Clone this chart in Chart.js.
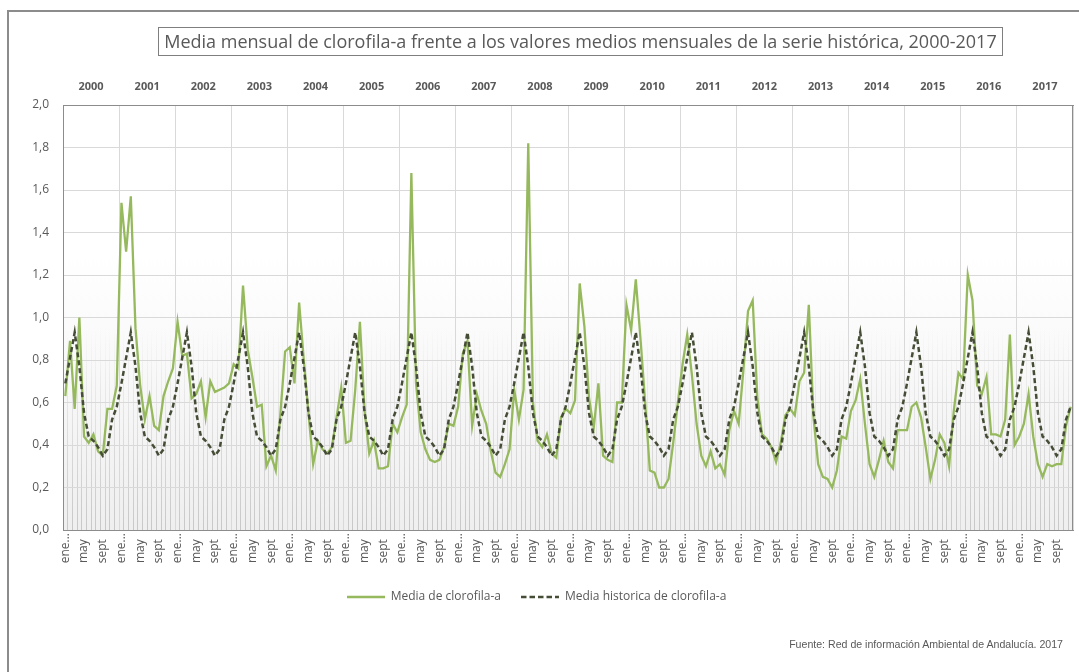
<!DOCTYPE html>
<html><head><meta charset="utf-8">
<script src="https://cdn.jsdelivr.net/npm/chart.js@4.4.1/dist/chart.umd.min.js"></script>
<style>
html,body{margin:0;padding:0;background:#fff;}
#wrap{position:relative;width:1079px;height:672px;overflow:hidden;}
#frame{position:absolute;left:7px;top:10px;width:1200px;height:800px;border:2px solid #8c8c8c;box-sizing:border-box;}
#title{position:absolute;left:158px;top:27px;width:845px;height:29px;border:1px solid #7f7f7f;box-sizing:border-box;font:18px "Open Sans",sans-serif;color:#595959;text-align:center;line-height:26px;white-space:nowrap;}
#src{position:absolute;right:16px;top:638px;font:10.6px "Liberation Sans",Arial,sans-serif;color:#595959;}
canvas{position:absolute;left:0;top:0;}
</style></head>
<body>
<div id="wrap">
<div id="frame"></div>
<canvas id="c" width="1079" height="672"></canvas>
<div id="title">Media mensual de clorofila-a frente a los valores medios mensuales de la serie histórica, 2000-2017</div>
<div id="src">Fuente: Red de información Ambiental de Andalucía. 2017</div>
</div>
<script>
const years = ['2000','2001','2002','2003','2004','2005','2006','2007','2008','2009','2010','2011','2012','2013','2014','2015','2016','2017'];
const mesesEje = ['ene...','feb','mar','abr','may','jun','jul','ago','sept','oct','nov','dic'];
const yTicks = [0,0.2,0.4,0.6,0.8,1.0,1.2,1.4,1.6,1.8,2.0];

const c2000 = [0.63,0.89,0.57,1.00,0.44,0.41,0.45,0.37,0.35,0.57,0.57,0.68];
const c2001 = [1.54,1.31,1.57,0.95,0.68,0.52,0.63,0.49,0.47,0.63,0.70,0.76];
const c2002 = [0.98,0.82,0.83,0.62,0.64,0.70,0.53,0.70,0.65,0.66,0.67,0.69];
const c2003 = [0.78,0.76,1.15,0.85,0.72,0.58,0.59,0.30,0.35,0.28,0.55,0.84];
const c2004 = [0.86,0.69,1.07,0.80,0.55,0.31,0.42,0.38,0.36,0.39,0.53,0.67];
const c2005 = [0.41,0.42,0.66,0.98,0.56,0.36,0.42,0.29,0.29,0.30,0.50,0.46];
const c2006 = [0.53,0.59,1.68,0.69,0.46,0.38,0.33,0.32,0.33,0.39,0.50,0.49];
const c2007 = [0.58,0.83,0.89,0.49,0.64,0.56,0.50,0.37,0.27,0.25,0.31,0.38];
const c2008 = [0.66,0.52,0.66,1.82,0.60,0.42,0.39,0.45,0.36,0.34,0.53,0.57];
const c2009 = [0.55,0.61,1.16,0.96,0.62,0.48,0.69,0.35,0.33,0.32,0.60,0.60];
const c2010 = [1.06,0.94,1.18,0.90,0.60,0.28,0.27,0.20,0.20,0.24,0.41,0.60];
const c2011 = [0.78,0.92,0.73,0.50,0.35,0.30,0.37,0.29,0.31,0.26,0.47,0.56];
const c2012 = [0.50,0.75,1.03,1.08,0.62,0.45,0.43,0.39,0.32,0.41,0.54,0.57];
const c2013 = [0.54,0.70,0.74,1.06,0.53,0.31,0.25,0.24,0.20,0.28,0.44,0.43];
const c2014 = [0.56,0.61,0.71,0.50,0.31,0.25,0.33,0.42,0.32,0.29,0.47,0.47];
const c2015 = [0.47,0.58,0.60,0.53,0.39,0.24,0.33,0.45,0.41,0.30,0.56,0.74];
const c2016 = [0.71,1.20,1.08,0.68,0.64,0.72,0.45,0.45,0.44,0.52,0.92,0.40];
const c2017 = [0.44,0.50,0.64,0.44,0.31,0.25,0.31,0.30,0.31,0.31,0.49,0.58];

// Media histórica mensual (ene..dic), igual cada año
const mediaHistoricaMensual = [0.69,0.81,0.93,0.77,0.55,0.44,0.42,0.39,0.35,0.38,0.52,0.58];

const porAnio = [c2000,c2001,c2002,c2003,c2004,c2005,c2006,c2007,c2008,c2009,c2010,c2011,c2012,c2013,c2014,c2015,c2016,c2017];
const etiquetas = [];
const clorofila = [];
const historica = [];
porAnio.forEach(arr => {
  arr.forEach((v, m) => {
    etiquetas.push(mesesEje[m]);
    clorofila.push(v);
    historica.push(mediaHistoricaMensual[m]);
  });
});

const GREEN = '#96b95e';
const DARK = '#454d36';
const TXT = '#595959';

function lineSample(color, width, dash) {
  const c = document.createElement('canvas');
  c.width = 38; c.height = 4;
  const x = c.getContext('2d');
  x.strokeStyle = color; x.lineWidth = width; x.setLineDash(dash);
  x.beginPath(); x.moveTo(0, 2); x.lineTo(38, 2); x.stroke();
  return c;
}

function gridColorX(ctx) {
  const i = ctx.index;
  if (i === undefined || i % 12 === 0) return '#d9d9d9';
  const ch = ctx.chart, a = ch.chartArea;
  if (!a || !ch.scales.y) return 'rgba(0,0,0,0)';
  const g = ch.ctx.createLinearGradient(0, ch.scales.y.getPixelForValue(0.95), 0, a.bottom);
  g.addColorStop(0, 'rgba(200,200,200,0)');
  g.addColorStop(1, 'rgba(200,200,200,1)');
  return g;
}

const bgPlugin = {
  id: 'bg',
  beforeDraw(chart) {
    const a = chart.chartArea, c = chart.ctx, ys = chart.scales.y;
    const g = c.createLinearGradient(0, ys.getPixelForValue(1.3), 0, a.bottom);
    g.addColorStop(0, '#ffffff');
    g.addColorStop(1, '#efefef');
    c.save();
    c.fillStyle = g;
    c.fillRect(a.left, a.top, a.right - a.left, a.bottom - a.top);
    c.restore();
  },
  beforeDatasetsDraw(chart) {
    const a = chart.chartArea, c = chart.ctx;
    c.save();
    c.strokeStyle = '#8c8c8c';
    c.lineWidth = 1;
    c.strokeRect(a.left + 0.5, a.top + 0.5, a.right - a.left - 1, a.bottom - a.top);
    c.restore();
  }
};

const noPad = s => { s.paddingLeft = 0; s.paddingRight = 0; };
const padFin = { 'may': '  ', 'sept': '  ' };

new Chart(document.getElementById('c'), {
  type: 'line',
  data: {
    labels: etiquetas,
    datasets: [
      { label: 'Media de clorofila-a', data: clorofila, borderColor: GREEN, backgroundColor: GREEN,
        borderWidth: 2.3, pointRadius: 0, pointStyle: lineSample(GREEN, 2.3, []), tension: 0, order: 2 },
      { label: 'Media historica de clorofila-a', data: historica, borderColor: DARK, backgroundColor: DARK,
        borderWidth: 2.5, borderDash: [5, 3], pointRadius: 0, pointStyle: lineSample(DARK, 2.5, [5.5, 3]), tension: 0, order: 1 }
    ]
  },
  options: {
    responsive: false,
    animation: false,
    devicePixelRatio: 1,
    layout: { padding: { left: 0, right: 6, top: 80, bottom: 59 } },
    plugins: {
      legend: {
        position: 'bottom',
        labels: { usePointStyle: true, pointStyleWidth: 38, boxHeight: 12, padding: 20, color: TXT,
                  font: { family: 'Open Sans', size: 12 },
                  sort: (a, b) => a.datasetIndex - b.datasetIndex }
      },
      tooltip: { enabled: false }
    },
    scales: {
      x: {
        type: 'category', position: 'bottom', offset: true,
        grid: { offset: true, drawTicks: false, color: gridColorX, lineWidth: 1 },
        border: { display: true, color: '#8c8c8c', width: 1 },
        ticks: { autoSkip: false, maxRotation: 90, minRotation: 90, padding: 3, color: TXT,
                 font: { family: 'Open Sans', size: 12 },
                 callback: (v, i) => (i % 4 === 0 ? etiquetas[i] + (padFin[etiquetas[i]] || '') : '') },
        afterFit: s => { s.height = 41; noPad(s); }
      },
      x2: {
        type: 'category', labels: years, position: 'top', offset: true,
        grid: { display: false, drawTicks: false },
        border: { display: true, color: '#8c8c8c', width: 1 },
        ticks: { autoSkip: false, maxRotation: 0, minRotation: 0, padding: 12, color: TXT,
                 font: { family: 'Open Sans', size: 11, weight: 'bold' } },
        afterFit: s => { s.height = 25; noPad(s); }
      },
      y: {
        min: 0, max: 2,
        afterBuildTicks: s => { s.ticks = yTicks.map(v => ({ value: v })); },
        grid: { color: '#d9d9d9', drawTicks: false },
        border: { display: true, color: '#8c8c8c', width: 1 },
        ticks: { padding: 14, color: TXT, font: { family: 'Open Sans', size: 12 },
                 callback: v => Number(v).toFixed(1).replace('.', ',') },
        afterFit: s => { s.width = 63; s.paddingTop = 0; s.paddingBottom = 0; }
      }
    }
  },
  plugins: [bgPlugin]
});
</script>
</body></html>
